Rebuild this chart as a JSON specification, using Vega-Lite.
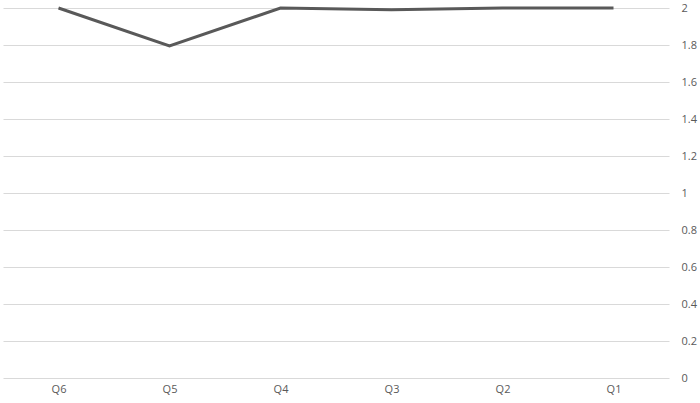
{
  "$schema": "https://vega.github.io/schema/vega-lite/v6.json",
  "width": 666,
  "height": 370,
  "autosize": {"type": "none"},
  "padding": {"left": 3, "top": 8, "right": 31, "bottom": 25},
  "background": "white",
  "config": {"view": {"stroke": null}, "font": "Open Sans"},
  "data": {"values": [
    {"q": "Q6", "v": 2.0},
    {"q": "Q5", "v": 1.795},
    {"q": "Q4", "v": 2.0},
    {"q": "Q3", "v": 1.99},
    {"q": "Q2", "v": 2.0},
    {"q": "Q1", "v": 2.0}
  ]},
  "mark": {"type": "line", "color": "#595959", "strokeWidth": 3, "clip": false},
  "encoding": {
    "x": {"field": "q", "type": "nominal", "sort": null,
      "scale": {"paddingInner": 0, "paddingOuter": 0, "align": 0.5},
      "axis": {"title": null, "domain": false, "ticks": false, "grid": false, "labelAngle": 0,
        "labelFontSize": 11, "labelColor": "#595959", "labelPadding": 5}},
    "y": {"field": "v", "type": "quantitative",
      "scale": {"domain": [0, 2], "nice": false},
      "axis": {"title": null, "orient": "right", "domain": false, "ticks": false,
        "values": [0, 0.2, 0.4, 0.6, 0.8, 1, 1.2, 1.4, 1.6, 1.8, 2],
        "format": "~g",
        "gridColor": "#d9d9d9", "gridWidth": 1, "labelFontSize": 11, "labelColor": "#595959",
        "labelPadding": 12, "labelAlign": "left"}}
  }
}
